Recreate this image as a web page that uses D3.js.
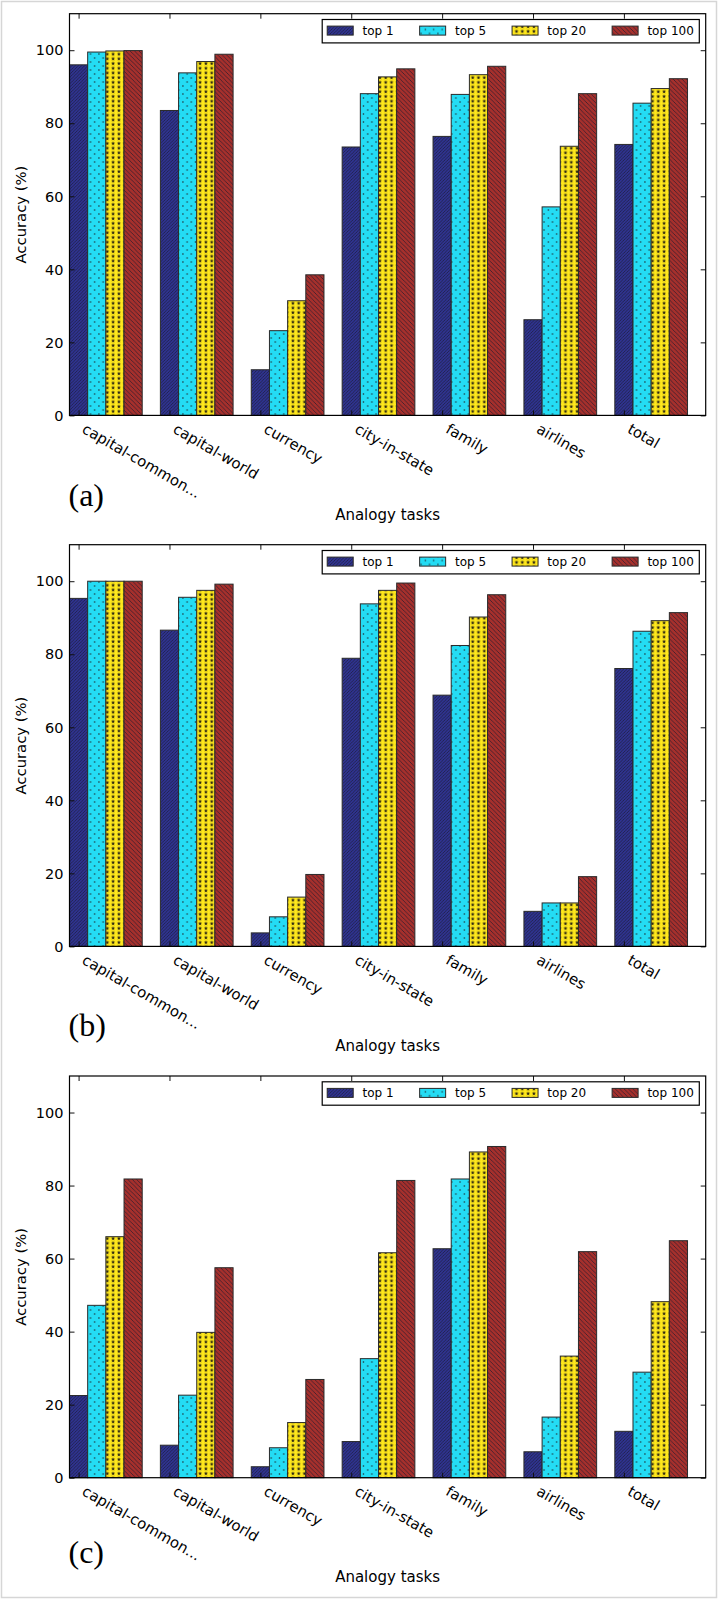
<!DOCTYPE html>
<html>
<head>
<meta charset="utf-8">
<script src="https://cdn.jsdelivr.net/npm/d3@7/dist/d3.min.js"></script>
<style>
  html, body { margin: 0; padding: 0; background: #fff; }
  svg { display: block; }
</style>
</head>
<body>
<svg id="chart" width="719" height="1600"></svg>
<script>
// ---------------- DATA ----------------
const categories = ["capital-common...", "capital-world", "currency", "city-in-state", "family", "airlines", "total"];
const seriesNames = ["top 1", "top 5", "top 20", "top 100"];
const yTicks = [0, 20, 40, 60, 80, 100];
const panelLabels = ["(a)", "(b)", "(c)"];

// panel (a)
const a_top1   = [96.0, 83.5, 12.5, 73.5, 76.4, 26.2, 74.2];
const a_top5   = [99.5, 93.8, 23.2, 88.1, 87.9, 57.1, 85.5];
const a_top20  = [99.8, 96.9, 31.4, 92.7, 93.3, 73.7, 89.5];
const a_top100 = [99.9, 98.9, 38.5, 94.9, 95.6, 88.1, 92.2];
// panel (b)
const b_top1   = [95.3, 86.6, 3.7, 78.9, 68.8, 9.6, 76.1];
const b_top5   = [100.0, 95.6, 8.1, 93.8, 82.4, 11.9, 86.3];
const b_top20  = [100.0, 97.5, 13.5, 97.5, 90.2, 11.9, 89.2];
const b_top100 = [100.0, 99.2, 19.7, 99.5, 96.3, 19.1, 91.4];
// panel (c)
const c_top1   = [22.5, 8.9, 3.0, 9.9, 62.7, 7.1, 12.7];
const c_top5   = [47.2, 22.6, 8.2, 32.6, 81.8, 16.6, 28.9];
const c_top20  = [66.0, 39.8, 15.1, 61.6, 89.2, 33.3, 48.2];
const c_top100 = [81.8, 57.5, 26.9, 81.4, 90.7, 61.9, 64.9];

const panelsData = [
  [a_top1, a_top5, a_top20, a_top100],
  [b_top1, b_top5, b_top20, b_top100],
  [c_top1, c_top5, c_top20, c_top100]
];

// ---------------- STYLE / LAYOUT ----------------
const plotLeft = 69.5, plotRight = 705.7;
const panelTops = [13.7, 544.7, 1076];
const panelH = 401.7;
const labelBaselineOffsets = [90.3, 89.6, 85.3];
const fillIds = ["hatchNavy", "dotsCyan", "starsYellow", "hatchBrown"];
const edge = "#2a2a2a";

const svg = d3.select("#chart");

// outer light frame
svg.append("rect").attr("x", 1.5).attr("y", 1.5).attr("width", 715).attr("height", 1596)
  .attr("fill", "#fff").attr("stroke", "#d6d6d6").attr("stroke-width", 1.5);

// ---------- patterns ----------
const defs = svg.append("defs");
function linePattern(id, bg, s, dir) {
  const p = defs.append("pattern").attr("id", id).attr("patternUnits", "userSpaceOnUse")
    .attr("width", s).attr("height", s);
  p.append("rect").attr("width", s).attr("height", s).attr("fill", bg);
  const d = dir === "/"
    ? `M0,${s} L${s},0 M${-s/2},${s/2} L${s/2},${-s/2} M${s/2},${s*1.5} L${s*1.5},${s/2}`
    : `M0,0 L${s},${s} M${-s/2},${s/2} L${s/2},${s*1.5} M${s/2},${-s/2} L${s*1.5},${s/2}`;
  p.append("path").attr("d", d).attr("stroke", "#1b1b30").attr("stroke-width", 0.8)
    .attr("stroke-opacity", 0.8).attr("fill", "none");
}
linePattern("hatchNavy", "#2f3390", 3.2, "/");
linePattern("hatchBrown", "#a6302c", 4.4, "\\");

(function () {
  const p = defs.append("pattern").attr("id", "dotsCyan").attr("patternUnits", "userSpaceOnUse")
    .attr("width", 8.4).attr("height", 8);
  p.append("rect").attr("width", 8.4).attr("height", 8).attr("fill", "#24dcf4");
  p.append("circle").attr("cx", 2.3).attr("cy", 2).attr("r", 0.8).attr("fill", "#1e3038");
  p.append("circle").attr("cx", 6.5).attr("cy", 6).attr("r", 0.8).attr("fill", "#1e3038");
})();

(function () {
  const pw = 5.8, ph = 4.7;
  const p = defs.append("pattern").attr("id", "starsYellow").attr("patternUnits", "userSpaceOnUse")
    .attr("width", pw).attr("height", ph);
  p.append("rect").attr("width", pw).attr("height", ph).attr("fill", "#ffe81c");
  const R = 2.2, r = 0.95, cx = pw / 2, cy = ph / 2;
  let pts = [];
  for (let i = 0; i < 10; i++) {
    const ang = -Math.PI / 2 + i * Math.PI / 5;
    const rad = i % 2 === 0 ? R : r;
    pts.push([cx + rad * Math.cos(ang), cy + rad * Math.sin(ang)]);
  }
  p.append("path").attr("d", "M" + pts.map(q => q.join(",")).join("L") + "Z").attr("fill", "#2a2410");
})();

// ---------- panels ----------
const x = d3.scaleLinear().domain([0, categories.length]).range([plotLeft, plotRight]);
const barW = 0.2;
const font = "'DejaVu Sans', sans-serif";

panelsData.forEach((series, pi) => {
  const top = panelTops[pi], bottom = top + panelH;
  const y = d3.scaleLinear().domain([0, 110]).range([bottom, top]);
  const g = svg.append("g");

  // bars
  series.forEach((vals, si) => {
    g.append("g").selectAll("rect").data(vals).join("rect")
      .attr("x", (d, i) => x(i + si * barW))
      .attr("width", x(barW) - x(0))
      .attr("y", d => y(d))
      .attr("height", d => y(0) - y(d))
      .attr("fill", `url(#${fillIds[si]})`)
      .attr("stroke", edge).attr("stroke-width", 1);
  });

  const tickPos = categories.map((c, i) => i + barW / 2);

  // axes (inward ticks on all sides) via d3 axes
  const yAxisL = d3.axisRight(y).tickValues(yTicks).tickSize(5).tickFormat("");
  const yAxisR = d3.axisLeft(y).tickValues(yTicks).tickSize(5).tickFormat("");
  const xAxisT = d3.axisBottom(x).tickValues(tickPos).tickSize(5).tickFormat("");
  const xAxisB = d3.axisTop(x).tickValues(tickPos).tickSize(5).tickFormat("");
  [[yAxisL, `translate(${plotLeft},0)`], [yAxisR, `translate(${plotRight},0)`],
   [xAxisT, `translate(0,${top})`], [xAxisB, `translate(0,${bottom})`]].forEach(([ax, tr]) => {
    const a = g.append("g").attr("transform", tr).call(ax);
    a.select(".domain").remove();
    a.selectAll("line").attr("stroke", "#111").attr("stroke-width", 1);
  });

  // frame
  g.append("rect").attr("x", plotLeft).attr("y", top).attr("width", plotRight - plotLeft)
    .attr("height", panelH).attr("fill", "none").attr("stroke", "#000").attr("stroke-width", 1.2);

  // y tick labels
  g.append("g").selectAll("text").data(yTicks).join("text")
    .attr("x", plotLeft - 6).attr("y", d => y(d)).attr("dy", "0.36em")
    .attr("text-anchor", "end").attr("font-family", font).attr("font-size", 14.5)
    .attr("fill", "#000").text(d => d);

  // x category labels rotated
  g.append("g").selectAll("text").data(categories).join("text")
    .attr("transform", (d, i) => `translate(${x(tickPos[i]) + 2.5},${bottom + 16.5}) rotate(30)`)
    .attr("text-anchor", "start").attr("font-family", font).attr("font-size", 14.8)
    .attr("fill", "#000").text(d => d);

  // axis titles
  g.append("text").attr("x", (plotLeft + plotRight) / 2).attr("y", bottom + 104.5)
    .attr("text-anchor", "middle").attr("font-family", font).attr("font-size", 15)
    .text("Analogy tasks");
  g.append("text").attr("transform", `translate(25.5,${(top + bottom) / 2}) rotate(-90)`)
    .attr("text-anchor", "middle").attr("font-family", font).attr("font-size", 14.8)
    .text("Accuracy (%)");

  // panel label
  g.append("text").attr("x", 68.5).attr("y", bottom + labelBaselineOffsets[pi])
    .attr("font-family", "'Liberation Serif', 'Times New Roman', serif").attr("font-size", 32)
    .text(panelLabels[pi]);

  // legend
  const lg = g.append("g");
  const fs = 12, patchW = 26, patchH = 9, padText = 9.3, colSp = 26, inner = 5;
  let cur = inner;
  seriesNames.forEach((name, si) => {
    const it = lg.append("g");
    it.append("rect").attr("x", cur).attr("y", 6.6).attr("width", patchW).attr("height", patchH)
      .attr("fill", `url(#${fillIds[si]})`).attr("stroke", edge).attr("stroke-width", 1);
    const t = it.append("text").attr("x", cur + patchW + padText).attr("y", 11.1).attr("dy", "0.36em")
      .attr("font-family", font).attr("font-size", fs).text(name);
    const tw = t.node().getComputedTextLength();
    cur += patchW + padText + tw + (si < seriesNames.length - 1 ? colSp : 0);
  });
  const boxW = cur + 5.5, boxH = 23.4;
  lg.insert("rect", ":first-child").attr("x", 0).attr("y", 0).attr("width", boxW).attr("height", boxH)
    .attr("fill", "#fff").attr("stroke", "#000").attr("stroke-width", 1.2);
  lg.attr("transform", `translate(${plotRight - 6.4 - boxW},${top + 5.8})`);
});
</script>
</body>
</html>
